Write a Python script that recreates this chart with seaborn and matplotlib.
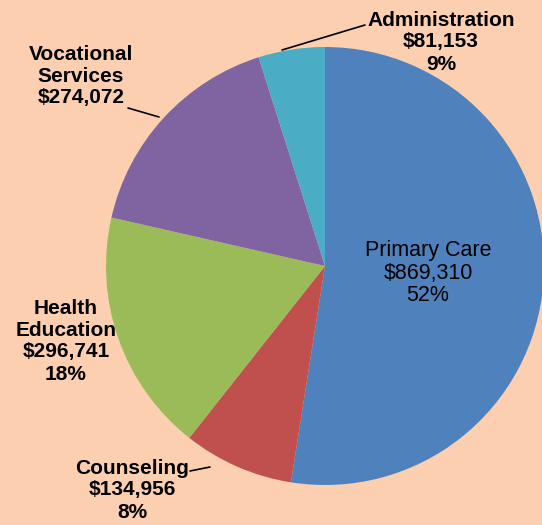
import matplotlib
matplotlib.use("Agg")
import matplotlib.pyplot as plt
import seaborn as sns

# data
categories = ["Primary Care", "Counseling", "Health Education",
              "Vocational Services", "Administration"]
amounts = [869310, 134956, 296741, 274072, 81153]
pct_labels = ["52%", "8%", "18%", None, "9%"]
colors = ["#4F81BD", "#C0504D", "#9BBB59", "#8064A2", "#4BACC6"]

bg = "#FDCFB1"

sns.set_theme(style="white", rc={"figure.facecolor": bg, "axes.facecolor": bg})
plt.rcParams["font.family"] = ["Liberation Sans", "DejaVu Sans"]

fig = plt.figure(figsize=(5.42, 5.25), dpi=100)
ax = fig.add_axes([0, 0, 1, 1])

H = 525
ax.pie(amounts, colors=colors, startangle=90, counterclock=False,
       center=(325, H - 266), radius=219, frame=True,
       wedgeprops=dict(linewidth=0))
ax.set_xlim(0, 542)
ax.set_ylim(0, 525)
ax.set_aspect("equal")
ax.axis("off")


def lab(i):
    name = categories[i]
    txt = name if i != 2 and i != 3 else name.replace(" ", "\n")
    txt += "\n${:,}".format(amounts[i])
    if pct_labels[i]:
        txt += "\n" + pct_labels[i]
    return txt


# inside label
ax.text(428, H - 273, lab(0), ha="center", va="center", fontsize=15.5,
        linespacing=1.12, color="black")

# outside labels (bold)
out_kw = dict(ha="center", va="center", fontsize=15, fontweight="bold",
              linespacing=1.2, color="black")
ax.text(441, H - 42, lab(4), **out_kw)
ax.text(81, H - 76, lab(3), **out_kw)
ax.text(66, H - 341, lab(2), **out_kw)
ax.text(132, H - 490, lab(1), **out_kw)

# leader lines
line_kw = dict(color="black", lw=1.2)
ax.plot([282, 365], [H - 50, H - 25], **line_kw)
ax.plot([128, 159], [H - 108, H - 117], **line_kw)
ax.plot([190, 210], [H - 471, H - 467], **line_kw)

fig.savefig("out.png", dpi=100, facecolor=bg)
